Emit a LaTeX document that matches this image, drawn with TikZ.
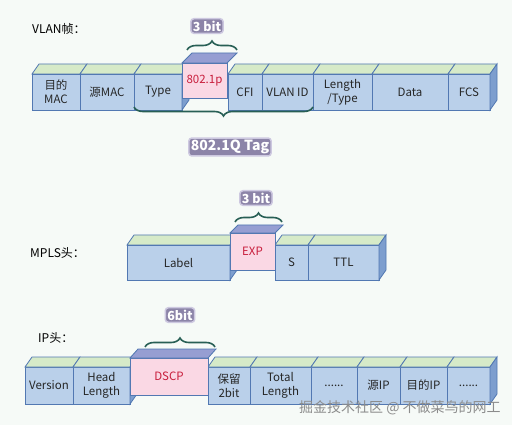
\documentclass[tikz,border=0pt]{standalone}
\usepackage{fontspec}
\setmainfont{Noto Sans CJK SC}
\usetikzlibrary{calc,decorations.pathreplacing}
\definecolor{bgcol}{RGB}{246,250,247}
\definecolor{fieldblue}{RGB}{186,208,234}
\definecolor{fieldline}{RGB}{82,120,178}
\definecolor{topgreen}{RGB}{214,234,200}
\definecolor{sideblue}{RGB}{125,158,206}
\definecolor{qospink}{RGB}{250,216,228}
\definecolor{qostop}{RGB}{150,158,210}
\definecolor{qostext}{RGB}{200,30,60}
\definecolor{bracecol}{RGB}{40,95,85}
\definecolor{tagbg}{RGB}{140,132,168}
\definecolor{taghalo}{RGB}{205,200,224}
\newcommand{\moredots}{......}
\tikzset{
  field/.style={draw=fieldline,fill=fieldblue,line width=0.8pt,inner sep=0pt,outer sep=0pt,
    align=center,font=\fontsize{11.5}{14}\selectfont,text=black!85},
  qosfield/.style={field,fill=qospink,text=qostext},
  topface/.style={fill=topgreen,draw=fieldline,line width=0.8pt},
  qostopface/.style={fill=qostop,draw=fieldline,line width=0.8pt},
  sideface/.style={fill=sideblue,draw=fieldline,line width=0.8pt},
  tagbrace/.style={draw=bracecol,line width=1.6pt,decorate,decoration={brace,amplitude=9pt}},
  bitlabel/.style={fill=tagbg,draw=taghalo,line width=1.5pt,rounded corners=3pt,text=white,
    font=\bfseries\fontsize{12.5}{13}\selectfont,inner sep=2pt},
  rowtitle/.style={anchor=west,font=\fontsize{12}{14}\selectfont,inner sep=0pt}
}
\begin{document}
\begin{tikzpicture}[x=1pt,y=-1pt]
  \useasboundingbox[fill=bgcol] (0,0) rectangle (512,425);
  % VLAN frame
  \node[rowtitle] (vlantitle) at (32,29) {VLAN帧：};
  \foreach \nm/\xa/\xb/\txt in {mac1/32/80/{目的\\MAC},mac2/80/134/源MAC,type/134/182/Type,
      cfi/228/262/CFI,vid/262/313/VLAN ID,len/313/372/{Length\\/Type},data/372/448/Data,fcs/448/490/FCS}{
    \pgfmathsetmacro{\w}{\xb-\xa}
    \node[field,minimum width=\w pt,minimum height=36pt] (\nm) at ({(\xa+\xb)/2},92) {\txt};
    \draw[topface] (\nm.north west) -- ++(7,-10) -- ++(\w,0) -- (\nm.north east) -- cycle;
  }
  \draw[sideface] (fcs.north east) -- ++(7,-10) -- ++(0,36) -- (fcs.south east) -- cycle;
  \draw[sideface] (type.north east) -- ++(7,-10) -- ++(0,36) -- (type.south east) -- cycle;
  \node[qosfield,minimum width=45pt,minimum height=35pt] (pri) at (204.5,80.5) {802.1p};
  \draw[qostopface] (pri.north west) -- ++(10,-10) -- ++(45,0) -- (pri.north east) -- cycle;
  \draw[tagbrace] ([shift={(5,-13)}]pri.north west) -- ([shift={(10,-13)}]pri.north east);
  \node[bitlabel] (pribits) at (207,26) {3 bit};
  \draw[tagbrace] ([yshift=3pt]vid.south east) -- ([yshift=3pt]type.south west);
  \node[bitlabel,font=\bfseries\fontsize{14}{15}\selectfont] (vlantag) at (230,147) {802.1Q Tag};
  % MPLS header
  \node[rowtitle] (mplstitle) at (30,253) {MPLS头：};
  \foreach \nm/\xa/\xb/\txt in {lbl/127/230/Label,sbit/275/308/S,ttl/308/379/TTL}{
    \pgfmathsetmacro{\w}{\xb-\xa}
    \node[field,minimum width=\w pt,minimum height=35pt] (\nm) at ({(\xa+\xb)/2},262.5) {\txt};
    \draw[topface] (\nm.north west) -- ++(7,-10) -- ++(\w,0) -- (\nm.north east) -- cycle;
  }
  \draw[sideface] (ttl.north east) -- ++(7,-10) -- ++(0,35) -- (ttl.south east) -- cycle;
  \draw[sideface] (lbl.north east) -- ++(7,-10) -- ++(0,35) -- (lbl.south east) -- cycle;
  \node[qosfield,minimum width=45pt,minimum height=37pt] (exp) at (252.5,251.5) {EXP};
  \draw[qostopface] (exp.north west) -- ++(8,-8) -- ++(45,0) -- (exp.north east) -- cycle;
  \draw[tagbrace] ([shift={(5,-11)}]exp.north west) -- ([shift={(7,-11)}]exp.north east);
  \node[bitlabel] (expbits) at (256,198) {3 bit};
  % IP header
  \node[rowtitle] (iptitle) at (38,338) {IP头：};
  \foreach \nm/\xa/\xb/\txt in {ver/25/73/Version,hlen/73/130/{Head\\Length},rsv/208/250/{保留\\2bit},
      tlen/250/311/{Total\\Length},dots1/311/357/\moredots,sip/357/400/源IP,dip/400/447/目的IP,dots2/447/490/\moredots}{
    \pgfmathsetmacro{\w}{\xb-\xa}
    \node[field,minimum width=\w pt,minimum height=37pt] (\nm) at ({(\xa+\xb)/2},385.5) {\txt};
    \draw[topface] (\nm.north west) -- ++(7,-10) -- ++(\w,0) -- (\nm.north east) -- cycle;
  }
  \draw[sideface] (dots2.north east) -- ++(7,-10) -- ++(0,37) -- (dots2.south east) -- cycle;
  \draw[sideface] (hlen.north east) -- ++(7,-10) -- ++(0,37) -- (hlen.south east) -- cycle;
  \node[qosfield,minimum width=78pt,minimum height=37pt] (dscp) at (169,376.5) {DSCP};
  \draw[qostopface] (dscp.north west) -- ++(8,-9) -- ++(78,0) -- (dscp.north east) -- cycle;
  \draw[tagbrace] ([shift={(15,-11)}]dscp.north west) -- ([shift={(7,-11)}]dscp.north east);
  \node[bitlabel] (dscpbits) at (180,315) {6bit};
  % watermark
  \node[font=\fontsize{14}{15}\selectfont,text=black!45,anchor=west,inner sep=0pt] (mark) at (299,408)
    {掘金技术社区 @ 不做菜鸟的网工};
\end{tikzpicture}
\end{document}
